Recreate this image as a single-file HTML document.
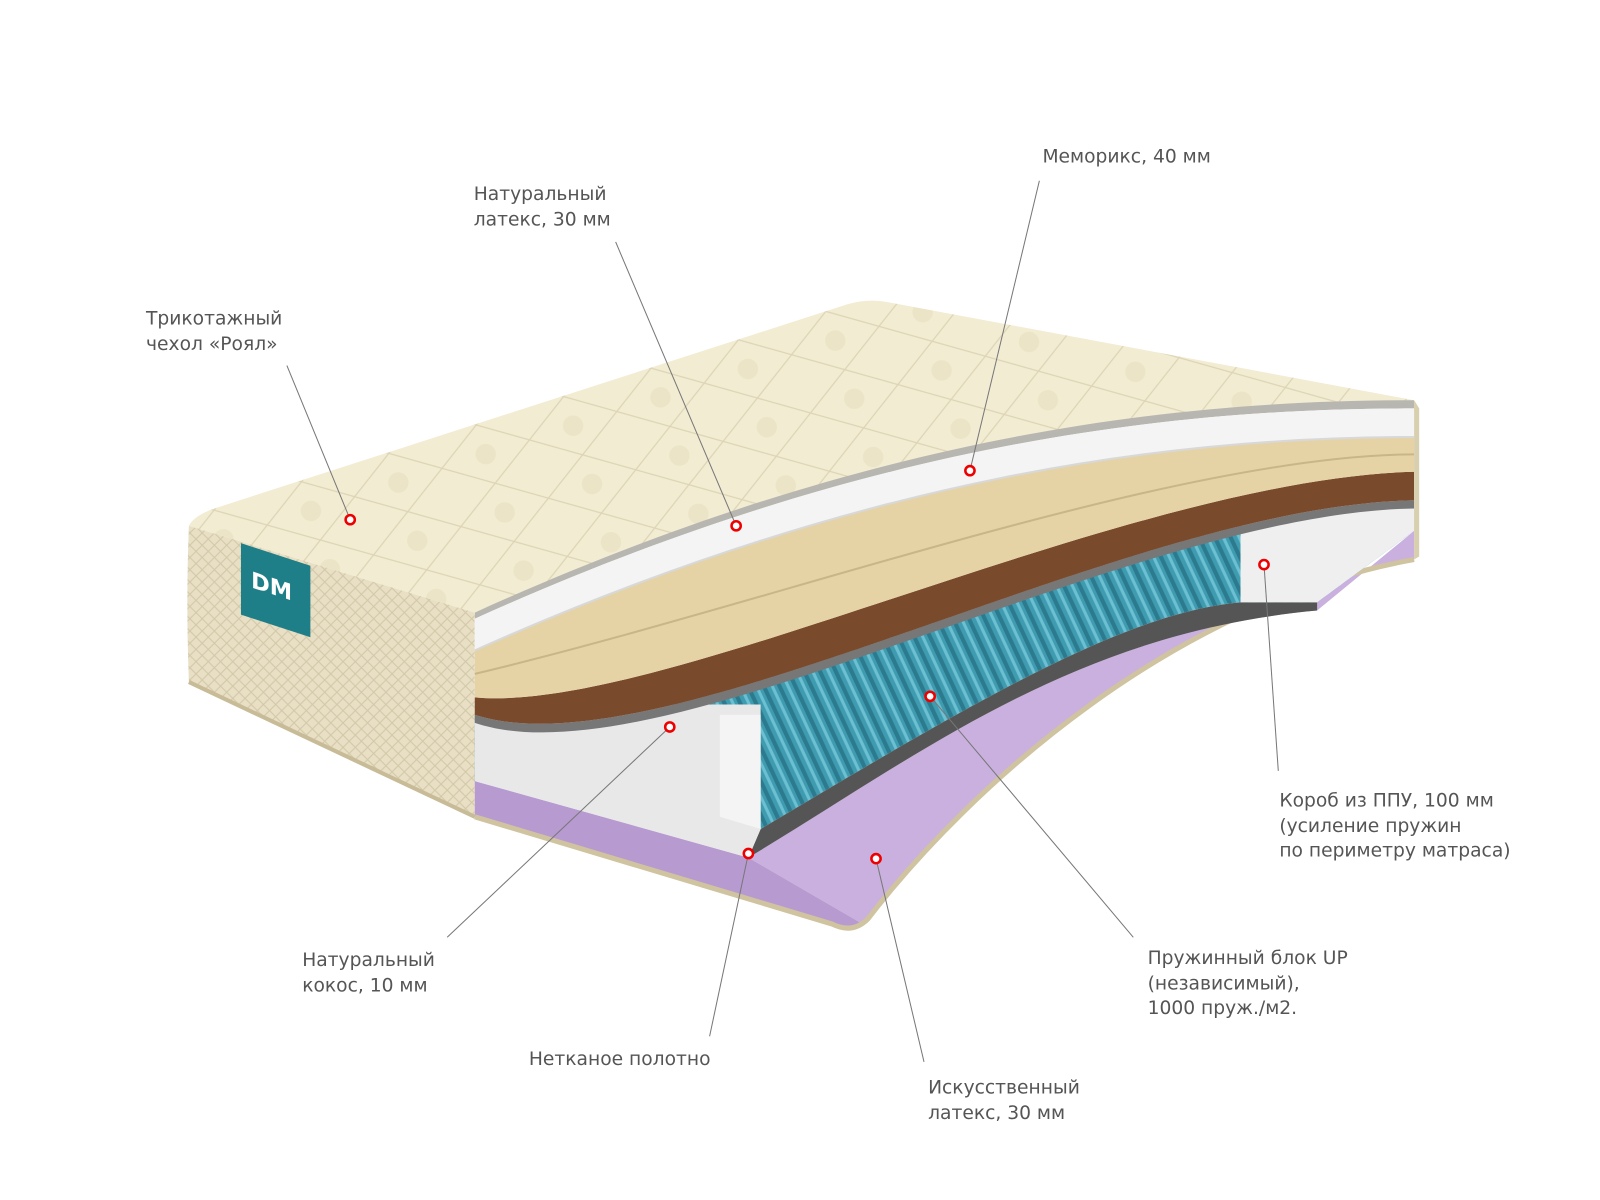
<!DOCTYPE html>
<html><head><meta charset="utf-8"><style>
html,body{margin:0;padding:0;background:#fff;}
svg{display:block}
text{font-family:"DejaVu Sans","Liberation Sans",sans-serif;font-size:18.3px;fill:#555;}
</style></head><body>
<svg width="1600" height="1200" viewBox="0 0 1600 1200" xmlns="http://www.w3.org/2000/svg">
<defs>
<pattern id="quilt" width="90" height="60" patternUnits="userSpaceOnUse" patternTransform="rotate(-18)">
<rect width="90" height="60" fill="#f2ecd3"/>
<path d="M0 30 L45 0 L90 30 L45 60 Z" fill="none" stroke="#ddd4b4" stroke-width="1.2"/>
<circle cx="45" cy="30" r="10" fill="#ece4c6"/>
</pattern>
<pattern id="side" width="12" height="12" patternUnits="userSpaceOnUse">
<rect width="12" height="12" fill="#e8dfc4"/>
<path d="M0 0 L12 12 M12 0 L0 12" stroke="#d2c7a8" stroke-width="1"/>
</pattern>
<pattern id="spr" width="14" height="20" patternUnits="userSpaceOnUse" patternTransform="rotate(-25)">
<rect width="14" height="20" fill="#3f9bb0"/>
<rect x="0" y="0" width="4" height="20" fill="#2c7a8e"/>
<rect x="8" y="0" width="3" height="20" fill="#6cc0d2"/>
</pattern>
</defs>
<g transform="scale(1.021)">
<path d="M185 515 Q190 505 210 498 L830 298 Q850 292 870 296 L1385 392 Q1392 400 1388 410 L1385 398 C1150 398 850 430 465 600 Z" fill="url(#quilt)"/>
<path d="M465 600 C850 425 1150 392 1385 392 L1385 400 C1150 400 850 432 465 606 Z" fill="#b8b6b0"/>
<path d="M185 515 L465 600 L465 800 L185 668 Q182 590 185 515 Z" fill="url(#side)"/>
<path d="M185 668 L465 800" stroke="#c8bc98" stroke-width="4"/>
<g transform="translate(236,608) skewY(18)">
<rect x="0" y="-76" width="68" height="70" fill="#1f7f88"/>
<text x="10" y="-36" style="fill:#fff;font-size:22px;font-weight:bold">DM</text>
</g>

<!-- purple -->
<path d="M733 840 L845 905 C950 770 1150 590 1385 548 L1385 520 L1290 598 C1050 620 900 740 733 840 Z" fill="#c9b0de"/>
<path d="M465 765 L733 840 L845 905 L830 910 L465 800 Z" fill="#b79ad0"/>
<path d="M465 800 L815 905 Q835 915 850 900 C950 770 1150 590 1385 548" fill="none" stroke="#cfc3a0" stroke-width="5"/>
<!-- springs full area under brown -->
<path d="M465 700 C650 760 1100 495 1385 490 L1385 520 L1290 590 L1215 590 C1100 600 950 690 745 812 L465 765 Z" fill="url(#spr)"/>
<!-- gray slab -->
<path d="M745 812 C950 690 1100 600 1215 590 L1290 590 L1290 598 C1050 620 900 740 733 840 Z" fill="#555"/>
<!-- right white block -->
<path d="M1215 470 L1385 470 L1385 520 L1290 590 L1215 590 Z" fill="#efefef"/>
<!-- left white block -->
<path d="M465 690 L745 690 L745 812 L733 840 L465 765 Z" fill="#e8e8e8"/>
<path d="M705 700 L745 700 L745 812 L705 800 Z" fill="#f4f4f4"/>

<!-- brown + gray -->
<path d="M465 700 C650 760 1100 495 1385 490 L1385 498 C1100 503 650 770 465 708 Z" fill="#777"/>
<path d="M465 683 C650 700 1100 470 1385 462 L1385 490 C1100 495 650 760 465 700 Z" fill="#7a4a2c"/>
<path d="M465 637 C850 465 1150 428 1385 428 L1385 462 C1100 470 650 700 465 683 Z" fill="#e5d3a6"/>
<path d="M465 660 C760 590 1150 446 1385 445" fill="none" stroke="#c9b688" stroke-width="2"/>
<path d="M465 606 C850 432 1150 400 1385 400 L1385 428 C1150 428 850 465 465 637 Z" fill="#f4f4f4"/>
<path d="M465 637 C850 465 1150 428 1385 428" fill="none" stroke="#d8d8d8" stroke-width="2"/>
<path d="M1385 392 L1390 400 L1390 545 L1385 548 Z" fill="#d8cfae"/>

<g stroke="#777" stroke-width="1">
<line x1="281" y1="358" x2="343" y2="509"/>
<line x1="603" y1="237" x2="721" y2="515"/>
<line x1="1018" y1="177" x2="950" y2="461"/>
<line x1="1238" y1="553" x2="1252" y2="755"/>
<line x1="911" y1="682" x2="1110" y2="918"/>
<line x1="656" y1="712" x2="438" y2="918"/>
<line x1="733" y1="836" x2="695" y2="1015"/>
<line x1="858" y1="841" x2="905" y2="1040"/>
</g>
<g fill="#fff" stroke="#e00" stroke-width="2.5">
<circle cx="343" cy="509" r="4.5"/><circle cx="721" cy="515" r="4.5"/><circle cx="950" cy="461" r="4.5"/>
<circle cx="1238" cy="553" r="4.5"/><circle cx="911" cy="682" r="4.5"/><circle cx="656" cy="712" r="4.5"/>
<circle cx="733" cy="836" r="4.5"/><circle cx="858" cy="841" r="4.5"/>
</g>

<text x="143" y="318">Трикотажный</text><text x="143" y="343">чехол «Роял»</text>
<text x="464" y="196">Натуральный</text><text x="464" y="221">латекс, 30 мм</text>
<text x="1021" y="159">Меморикс, 40 мм</text>
<text x="1253" y="790">Короб из ППУ, 100 мм</text><text x="1253" y="815">(усиление пружин</text><text x="1253" y="839">по периметру матраса)</text>
<text x="1124" y="944">Пружинный блок UP</text><text x="1124" y="969">(независимый),</text><text x="1124" y="993">1000 пруж./м2.</text>
<text x="296" y="946">Натуральный</text><text x="296" y="971">кокос, 10 мм</text>
<text x="518" y="1043">Нетканое полотно</text>
<text x="909" y="1071">Искусственный</text><text x="909" y="1096">латекс, 30 мм</text>
</g>
</svg>
</body></html>
